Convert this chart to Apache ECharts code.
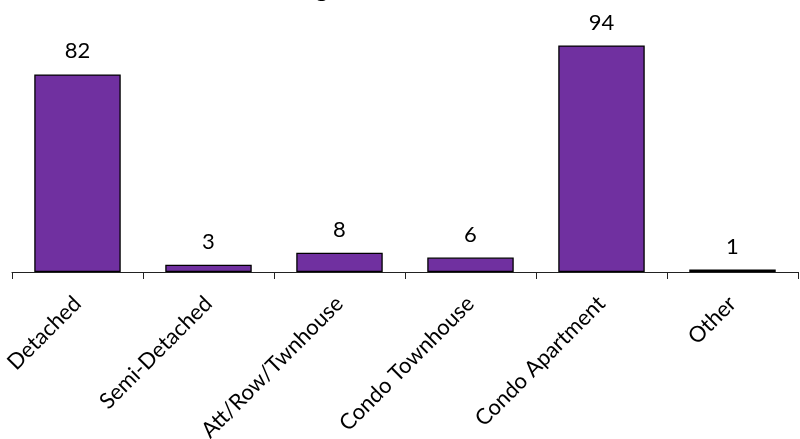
<!DOCTYPE html>
<html>
<head>
<meta charset="utf-8">
<script src="https://cdn.jsdelivr.net/npm/echarts@6/dist/echarts.min.js"></script>
<style>html,body{margin:0;padding:0;background:#fff;}#c{width:800px;height:439px;}</style>
</head>
<body>
<div id="c"></div>
<script>
const titleText = "Housing Sales Breakdown";
const categories = ["Detached", "Semi-Detached", "Att/Row/Twnhouse", "Condo Townhouse", "Condo Apartment", "Other"];
const values = [82, 3, 8, 6, 94, 1];

const chart = echarts.init(document.getElementById('c'), null, {renderer: 'canvas'});
chart.setOption({
  animation: false,
  backgroundColor: '#ffffff',
  title: {
    text: titleText,
    left: 235,
    top: -28,
    textStyle: {fontFamily: 'Lato', fontWeight: 'bold', fontSize: 24, color: '#000'}
  },
  grid: {left: 12, right: 2, top: 31, bottom: 167, containLabel: false, outerBoundsMode: 'none'},
  xAxis: {
    type: 'category',
    data: categories,
    axisLine: {lineStyle: {color: '#222', width: 1}},
    axisTick: {show: true, length: 7, lineStyle: {color: '#222'}},
    axisLabel: {rotate: 45, fontFamily: 'Lato', fontSize: 22, color: '#000', margin: 28, interval: 0}
  },
  yAxis: {type: 'value', min: 0, max: 100, show: false, splitLine: {show: false}},
  series: [{
    type: 'bar',
    data: values,
    barCategoryGap: '34%',
    itemStyle: {color: '#7030A0', borderColor: '#000', borderWidth: 1.3},
    label: {show: true, position: 'top', distance: 12, fontFamily: 'Lato', fontSize: 22, color: '#000'}
  }]
});
</script>
</body>
</html>
